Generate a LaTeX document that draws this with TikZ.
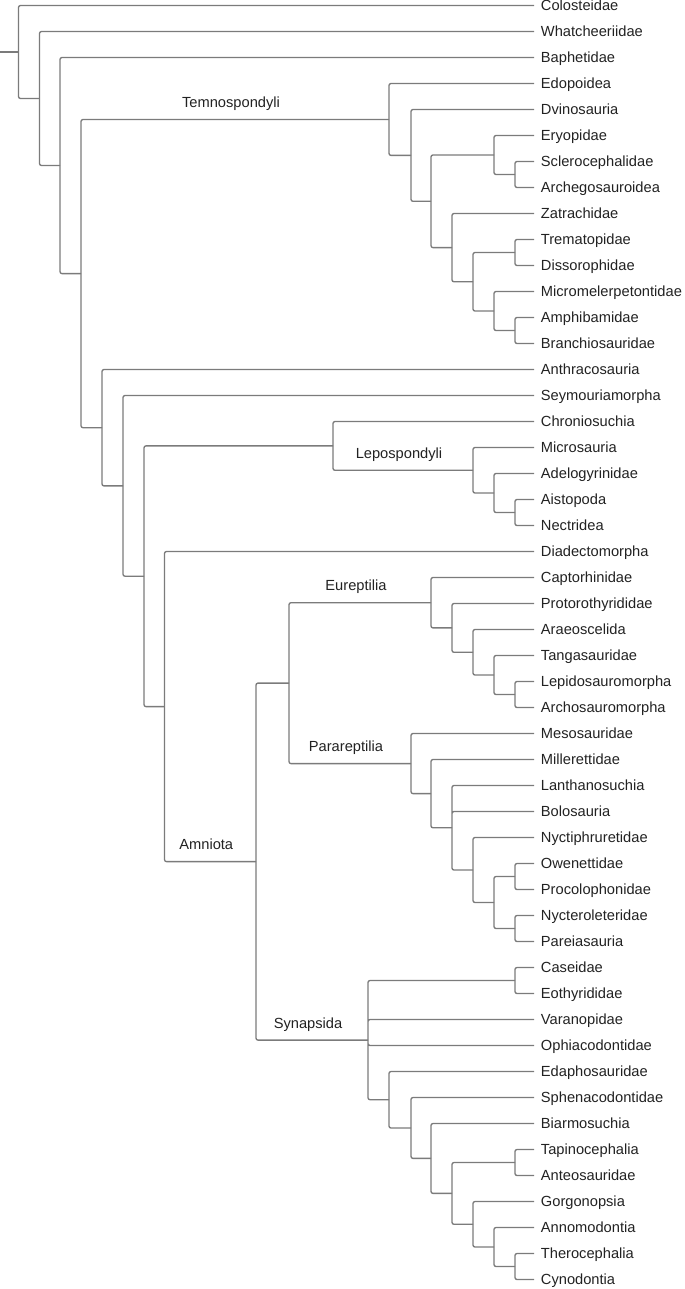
\documentclass[tikz,border=0pt]{standalone}
\usepackage{fontspec}
\setmainfont{Liberation Sans}
\usepackage{tikz}
\usetikzlibrary{positioning}
\definecolor{cladegray}{HTML}{7B7B7B}
\definecolor{cladeink}{HTML}{222222}
\tikzset{
  taxon/.style={anchor=west, inner xsep=5pt, inner ysep=0pt, text height=7.9pt, text depth=0pt, font=\fontsize{11}{13}\selectfont, text=cladeink},
  taxonbelow/.style={taxon, below=of #1.west, anchor=west},
  branch/.style={draw=cladegray, line width=1pt, rounded corners=1.5pt},
  clade/.style={pos=.75, anchor=base, yshift=9pt, xshift=-3pt, inner sep=0pt, font=\fontsize{11}{13}\selectfont, text=cladeink}
}

\begin{document}
\begin{tikzpicture}[x=0.75pt, y=-0.75pt, node distance=19.5pt]
  \useasboundingbox (0,0) rectangle (685,1289);
  \node[taxon] (colo) at (534,5.5) {Colosteidae};
  \node[taxonbelow=colo] (what) {Whatcheeriidae};
  \node[taxonbelow=what] (baph) {Baphetidae};
  \node[taxonbelow=baph] (edop) {Edopoidea};
  \node[taxonbelow=edop] (dvin) {Dvinosauria};
  \node[taxonbelow=dvin] (eryo) {Eryopidae};
  \node[taxonbelow=eryo] (scle) {Sclerocephalidae};
  \node[taxonbelow=scle] (arcg) {Archegosauroidea};
  \node[taxonbelow=arcg] (zatr) {Zatrachidae};
  \node[taxonbelow=zatr] (trem) {Trematopidae};
  \node[taxonbelow=trem] (diss) {Dissorophidae};
  \node[taxonbelow=diss] (micr) {Micromelerpetontidae};
  \node[taxonbelow=micr] (amph) {Amphibamidae};
  \node[taxonbelow=amph] (bran) {Branchiosauridae};
  \node[taxonbelow=bran] (anth) {Anthracosauria};
  \node[taxonbelow=anth] (seym) {Seymouriamorpha};
  \node[taxonbelow=seym] (chro) {Chroniosuchia};
  \node[taxonbelow=chro] (mics) {Microsauria};
  \node[taxonbelow=mics] (adel) {Adelogyrinidae};
  \node[taxonbelow=adel] (aist) {Aistopoda};
  \node[taxonbelow=aist] (nect) {Nectridea};
  \node[taxonbelow=nect] (diad) {Diadectomorpha};
  \node[taxonbelow=diad] (capt) {Captorhinidae};
  \node[taxonbelow=capt] (prot) {Protorothyrididae};
  \node[taxonbelow=prot] (arae) {Araeoscelida};
  \node[taxonbelow=arae] (tang) {Tangasauridae};
  \node[taxonbelow=tang] (lepi) {Lepidosauromorpha};
  \node[taxonbelow=lepi] (arcs) {Archosauromorpha};
  \node[taxonbelow=arcs] (meso) {Mesosauridae};
  \node[taxonbelow=meso] (mill) {Millerettidae};
  \node[taxonbelow=mill] (lant) {Lanthanosuchia};
  \node[taxonbelow=lant] (bolo) {Bolosauria};
  \node[taxonbelow=bolo] (nyct) {Nyctiphruretidae};
  \node[taxonbelow=nyct] (owen) {Owenettidae};
  \node[taxonbelow=owen] (proc) {Procolophonidae};
  \node[taxonbelow=proc] (nycl) {Nycteroleteridae};
  \node[taxonbelow=nycl] (pare) {Pareiasauria};
  \node[taxonbelow=pare] (case) {Caseidae};
  \node[taxonbelow=case] (eoth) {Eothyrididae};
  \node[taxonbelow=eoth] (vara) {Varanopidae};
  \node[taxonbelow=vara] (ophi) {Ophiacodontidae};
  \node[taxonbelow=ophi] (edap) {Edaphosauridae};
  \node[taxonbelow=edap] (sphe) {Sphenacodontidae};
  \node[taxonbelow=sphe] (biar) {Biarmosuchia};
  \node[taxonbelow=biar] (tapi) {Tapinocephalia};
  \node[taxonbelow=tapi] (ante) {Anteosauridae};
  \node[taxonbelow=ante] (gorg) {Gorgonopsia};
  \node[taxonbelow=gorg] (anno) {Annomodontia};
  \node[taxonbelow=anno] (ther) {Therocephalia};
  \node[taxonbelow=ther] (cyno) {Cynodontia};

  \coordinate (stem) at (0,52);
  \coordinate (n0) at (18.5,52);
  \coordinate (n1) at (39.5,98.5);
  \coordinate (n2) at (60,165.5);
  \coordinate (n3) at (81,273.6);
  \coordinate (n4) at (102,427.7);
  \coordinate (n5) at (123,485.9);
  \coordinate (n6) at (144,576.2);
  \coordinate (n7) at (164.5,706.6);
  \coordinate (t0) at (389,119.5);
  \coordinate (t1) at (411,155.4);
  \coordinate (t2) at (431,201.3);
  \coordinate (t3) at (494,155);
  \coordinate (t3a) at (515,174.5);
  \coordinate (t4) at (452,247.6);
  \coordinate (t5) at (473,281.8);
  \coordinate (t6) at (515,252.5);
  \coordinate (t7) at (494,311);
  \coordinate (t8) at (515,330.5);
  \coordinate (l0) at (333,445.9);
  \coordinate (l1) at (473,470.3);
  \coordinate (l2) at (494,493);
  \coordinate (l3) at (515,512.5);
  \coordinate (a0) at (256,861.6);
  \coordinate (s0) at (289,683.1);
  \coordinate (e0) at (431,602.7);
  \coordinate (e1) at (452,627.9);
  \coordinate (e2) at (473,652.3);
  \coordinate (e3) at (494,675);
  \coordinate (e4) at (515,694.5);
  \coordinate (p0) at (411,763.6);
  \coordinate (p1) at (431,793.6);
  \coordinate (p2) at (452,827.8);
  \coordinate (p3) at (473,870);
  \coordinate (p4) at (494,902.5);
  \coordinate (p5) at (515,876.5);
  \coordinate (p6) at (515,928.5);
  \coordinate (y0) at (368,1040.1);
  \coordinate (y1) at (515,980.5);
  \coordinate (y2) at (389,1099.7);
  \coordinate (y3) at (411,1128);
  \coordinate (y4) at (431,1158.4);
  \coordinate (y5) at (452,1193.4);
  \coordinate (y6) at (515,1162.5);
  \coordinate (y7) at (473,1224.3);
  \coordinate (y8) at (494,1247);
  \coordinate (y9) at (515,1266.5);

  \draw[branch] (stem) -- (n0);
  \draw[branch] (n0) |- (colo) (n0) |- (n1);
  \draw[branch] (n1) |- (what) (n1) |- (n2);
  \draw[branch] (n2) |- (baph) (n2) |- (n3);
  \draw[branch] (n3) |- node[clade]{Temnospondyli} (t0) (n3) |- (n4);
  \draw[branch] (t0) |- (edop) (t0) |- (t1);
  \draw[branch] (t1) |- (dvin) (t1) |- (t2);
  \draw[branch] (t2) |- (t3) (t2) |- (t4);
  \draw[branch] (t3) |- (eryo) (t3) |- (t3a);
  \draw[branch] (t3a) |- (scle) (t3a) |- (arcg);
  \draw[branch] (t4) |- (zatr) (t4) |- (t5);
  \draw[branch] (t5) |- (t6) (t5) |- (t7);
  \draw[branch] (t6) |- (trem) (t6) |- (diss);
  \draw[branch] (t7) |- (micr) (t7) |- (t8);
  \draw[branch] (t8) |- (amph) (t8) |- (bran);
  \draw[branch] (n4) |- (anth) (n4) |- (n5);
  \draw[branch] (n5) |- (seym) (n5) |- (n6);
  \draw[branch] (n6) |- (l0) (n6) |- (n7);
  \draw[branch] (l0) |- (chro) (l0) |- node[clade]{Lepospondyli} (l1);
  \draw[branch] (l1) |- (mics) (l1) |- (l2);
  \draw[branch] (l2) |- (adel) (l2) |- (l3);
  \draw[branch] (l3) |- (aist) (l3) |- (nect);
  \draw[branch] (n7) |- (diad) (n7) |- node[clade]{Amniota} (a0);
  \draw[branch] (a0) |- (s0) (a0) |- node[clade]{Synapsida} (y0);
  \draw[branch] (s0) |- node[clade]{Eureptilia} (e0) (s0) |- node[clade]{Parareptilia} (p0);
  \draw[branch] (e0) |- (capt) (e0) |- (e1);
  \draw[branch] (e1) |- (prot) (e1) |- (e2);
  \draw[branch] (e2) |- (arae) (e2) |- (e3);
  \draw[branch] (e3) |- (tang) (e3) |- (e4);
  \draw[branch] (e4) |- (lepi) (e4) |- (arcs);
  \draw[branch] (p0) |- (meso) (p0) |- (p1);
  \draw[branch] (p1) |- (mill) (p1) |- (p2);
  \draw[branch] (p2) |- (lant) (p2) |- (bolo) (p2) |- (p3);
  \draw[branch] (p3) |- (nyct) (p3) |- (p4);
  \draw[branch] (p4) |- (p5) (p4) |- (p6);
  \draw[branch] (p5) |- (owen) (p5) |- (proc);
  \draw[branch] (p6) |- (nycl) (p6) |- (pare);
  \draw[branch] (y0) |- (y1) (y0) |- (vara) (y0) |- (ophi) (y0) |- (y2);
  \draw[branch] (y1) |- (case) (y1) |- (eoth);
  \draw[branch] (y2) |- (edap) (y2) |- (y3);
  \draw[branch] (y3) |- (sphe) (y3) |- (y4);
  \draw[branch] (y4) |- (biar) (y4) |- (y5);
  \draw[branch] (y5) |- (y6) (y5) |- (y7);
  \draw[branch] (y6) |- (tapi) (y6) |- (ante);
  \draw[branch] (y7) |- (gorg) (y7) |- (y8);
  \draw[branch] (y8) |- (anno) (y8) |- (y9);
  \draw[branch] (y9) |- (ther) (y9) |- (cyno);
\end{tikzpicture}
\end{document}
